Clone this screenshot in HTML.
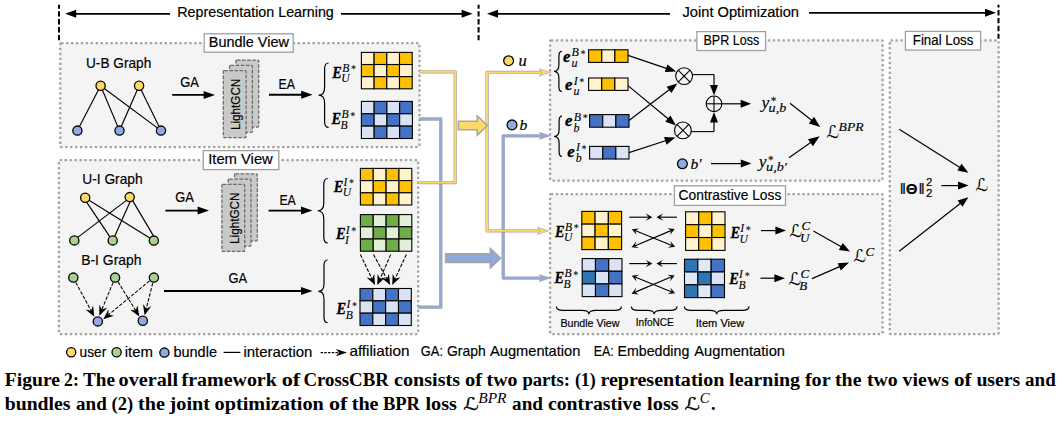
<!DOCTYPE html>
<html lang="en">
<head>
<meta charset="utf-8">
<title>Figure 2: CrossCBR framework</title>
<style>
html,body{margin:0;padding:0;background:#fff;}
body{width:1059px;height:422px;overflow:hidden;}
svg{display:block;position:absolute;left:0;top:0;}
text{white-space:pre;}
</style>
</head>
<body>
<svg width="1059" height="422" viewBox="0 0 1059 422">
<defs><filter id="sh" x="0" y="0" width="1059" height="422" filterUnits="userSpaceOnUse"><feGaussianBlur stdDeviation="0.55"/></filter></defs>
<rect x="0" y="0" width="1059" height="422" fill="#ffffff"/>
<line x1="59" y1="4.7" x2="59" y2="40.3" stroke="#000" stroke-width="2.0" stroke-dasharray="5.4 2.5" stroke-dashoffset="1.4"/>
<line x1="478.6" y1="4.7" x2="478.6" y2="40.3" stroke="#000" stroke-width="2.0" stroke-dasharray="5.4 2.5" stroke-dashoffset="1.4"/>
<line x1="998.5" y1="4.7" x2="998.5" y2="38.7" stroke="#000" stroke-width="2.0" stroke-dasharray="5.4 2.5" stroke-dashoffset="2.6"/>
<line x1="170" y1="13.8" x2="75.1" y2="13.8" stroke="#000" stroke-width="1.7" />
<polygon points="65.20,13.80 76.20,9.80 76.20,17.80" fill="#000"/>
<line x1="341" y1="13.8" x2="462.7" y2="13.8" stroke="#000" stroke-width="1.7" />
<polygon points="472.60,13.80 461.60,17.80 461.60,9.80" fill="#000"/>
<text x="177.3" y="17.2" font-size="13.8" font-family="'Liberation Sans', 'DejaVu Sans', sans-serif" fill="#000" textLength="156.5" lengthAdjust="spacingAndGlyphs" stroke="#000" stroke-width="0.18">Representation Learning</text>
<line x1="670" y1="13.8" x2="496.9" y2="13.8" stroke="#000" stroke-width="1.7" />
<polygon points="487.00,13.80 498.00,9.80 498.00,17.80" fill="#000"/>
<line x1="809" y1="12.8" x2="986.1" y2="12.8" stroke="#000" stroke-width="1.7" />
<polygon points="996.00,12.80 985.00,16.80 985.00,8.80" fill="#000"/>
<text x="682.5" y="16.9" font-size="13.8" font-family="'Liberation Sans', 'DejaVu Sans', sans-serif" fill="#000" textLength="116.5" lengthAdjust="spacingAndGlyphs" stroke="#000" stroke-width="0.18">Joint Optimization</text>
<rect x="60.3" y="43" width="359.2" height="104" rx="0.8" fill="#f4f4f4" stroke="#a2a2a2" stroke-width="2.25" stroke-dasharray="2.35 2.58"/>
<rect x="58.9" y="160" width="359.3" height="174" rx="0.8" fill="#f4f4f4" stroke="#a2a2a2" stroke-width="2.25" stroke-dasharray="2.35 2.58"/>
<rect x="550.1" y="40.3" width="332.5" height="140.2" rx="0.8" fill="#f4f4f4" stroke="#a2a2a2" stroke-width="2.25" stroke-dasharray="2.35 2.58"/>
<rect x="550.1" y="194" width="332.5" height="140" rx="0.8" fill="#f4f4f4" stroke="#a2a2a2" stroke-width="2.25" stroke-dasharray="2.35 2.58"/>
<rect x="889.8" y="40.3" width="108.80000000000007" height="293.7" rx="0.8" fill="#f4f4f4" stroke="#a2a2a2" stroke-width="2.25" stroke-dasharray="2.35 2.58"/>
<rect x="204.2" y="33.8" width="89.00" height="18.40" fill="#fff" stroke="#a0a0a0" stroke-width="1.3"/>
<text x="208.8" y="47" font-size="13.8" font-family="'Liberation Sans', 'DejaVu Sans', sans-serif" fill="#000" textLength="80.09999999999997" lengthAdjust="spacingAndGlyphs" stroke="#000" stroke-width="0.18">Bundle View</text>
<rect x="203.3" y="150.6" width="75.50" height="19.00" fill="#fff" stroke="#a0a0a0" stroke-width="1.3"/>
<text x="208.2" y="164.2" font-size="13.8" font-family="'Liberation Sans', 'DejaVu Sans', sans-serif" fill="#000" textLength="64.60000000000002" lengthAdjust="spacingAndGlyphs" stroke="#000" stroke-width="0.18">Item View</text>
<rect x="696.9" y="31.6" width="68.70" height="18.90" fill="#fff" stroke="#a0a0a0" stroke-width="1.3"/>
<text x="703.5" y="44.9" font-size="13.8" font-family="'Liberation Sans', 'DejaVu Sans', sans-serif" fill="#000" textLength="55.799999999999955" lengthAdjust="spacingAndGlyphs" stroke="#000" stroke-width="0.18">BPR Loss</text>
<rect x="674.4" y="185.8" width="111.10" height="19.60" fill="#fff" stroke="#a0a0a0" stroke-width="1.3"/>
<text x="678.6" y="200.2" font-size="13.8" font-family="'Liberation Sans', 'DejaVu Sans', sans-serif" fill="#000" textLength="102.69999999999993" lengthAdjust="spacingAndGlyphs" stroke="#000" stroke-width="0.18">Contrastive Loss</text>
<rect x="905.4" y="31.4" width="75.20" height="18.70" fill="#fff" stroke="#a0a0a0" stroke-width="1.3"/>
<text x="912.8" y="44.9" font-size="13.8" font-family="'Liberation Sans', 'DejaVu Sans', sans-serif" fill="#000" textLength="60.60000000000002" lengthAdjust="spacingAndGlyphs" stroke="#000" stroke-width="0.18">Final Loss</text>
<text x="86" y="67.8" font-size="14.3" font-family="'Liberation Sans', 'DejaVu Sans', sans-serif" fill="#000" textLength="65.3" lengthAdjust="spacingAndGlyphs" stroke="#000" stroke-width="0.18">U-B Graph</text>
<line x1="100.6" y1="85.7" x2="77.4" y2="130.6" stroke="#000" stroke-width="1.15" />
<line x1="100.6" y1="85.7" x2="119.5" y2="130.6" stroke="#000" stroke-width="1.15" />
<line x1="100.6" y1="85.7" x2="161" y2="130.6" stroke="#000" stroke-width="1.15" />
<line x1="139.1" y1="85.7" x2="119.5" y2="130.6" stroke="#000" stroke-width="1.15" />
<line x1="139.1" y1="85.7" x2="161" y2="130.6" stroke="#000" stroke-width="1.15" />
<circle cx="100.6" cy="85.7" r="4.6" fill="#FFD966" stroke="#000" stroke-width="1.3"/>
<circle cx="139.1" cy="85.7" r="4.6" fill="#FFD966" stroke="#000" stroke-width="1.3"/>
<circle cx="77.4" cy="130.6" r="4.6" fill="#8FAADC" stroke="#000" stroke-width="1.3"/>
<circle cx="119.5" cy="130.6" r="4.6" fill="#8FAADC" stroke="#000" stroke-width="1.3"/>
<circle cx="161" cy="130.6" r="4.6" fill="#8FAADC" stroke="#000" stroke-width="1.3"/>
<text x="180.3" y="87.4" font-size="14.2" font-family="'Liberation Sans', 'DejaVu Sans', sans-serif" fill="#000" textLength="18.6" lengthAdjust="spacingAndGlyphs" stroke="#000" stroke-width="0.18">GA</text>
<line x1="172.2" y1="94.9" x2="204.74" y2="94.9" stroke="#000" stroke-width="1.9" />
<polygon points="215.00,94.90 203.60,98.90 203.60,90.90" fill="#000"/>
<text x="278.6" y="89.4" font-size="14.2" font-family="'Liberation Sans', 'DejaVu Sans', sans-serif" fill="#000" textLength="16.4" lengthAdjust="spacingAndGlyphs" stroke="#000" stroke-width="0.18">EA</text>
<line x1="269" y1="94.8" x2="302.34" y2="94.8" stroke="#000" stroke-width="1.9" />
<polygon points="312.60,94.80 301.20,98.80 301.20,90.80" fill="#000"/>
<rect x="235.9" y="59.99999999999999" width="22.8" height="67" rx="1" fill="#c9c9c9" stroke="#6a6a6a" stroke-width="1.25" stroke-dasharray="3.6 1.5"/>
<rect x="229.60000000000002" y="65.3" width="22.8" height="67" rx="1" fill="#c9c9c9" stroke="#6a6a6a" stroke-width="1.25" stroke-dasharray="3.6 1.5"/>
<rect x="223.3" y="70.6" width="22.8" height="67" rx="1" fill="#c9c9c9" stroke="#6a6a6a" stroke-width="1.25" stroke-dasharray="3.6 1.5"/>
<text transform="translate(240.3,104.39999999999999) rotate(-90)" text-anchor="middle" font-size="13.6" font-family="'Liberation Sans', 'DejaVu Sans', sans-serif" textLength="51.4" lengthAdjust="spacingAndGlyphs" fill="#000" stroke="#000" stroke-width="0.18">LightGCN</text>
<rect x="234.5" y="173.8" width="22.8" height="67" rx="1" fill="#c9c9c9" stroke="#6a6a6a" stroke-width="1.25" stroke-dasharray="3.6 1.5"/>
<rect x="228.20000000000002" y="179.1" width="22.8" height="67" rx="1" fill="#c9c9c9" stroke="#6a6a6a" stroke-width="1.25" stroke-dasharray="3.6 1.5"/>
<rect x="221.9" y="184.4" width="22.8" height="67" rx="1" fill="#c9c9c9" stroke="#6a6a6a" stroke-width="1.25" stroke-dasharray="3.6 1.5"/>
<text transform="translate(238.9,218.20000000000002) rotate(-90)" text-anchor="middle" font-size="13.6" font-family="'Liberation Sans', 'DejaVu Sans', sans-serif" textLength="51.4" lengthAdjust="spacingAndGlyphs" fill="#000" stroke="#000" stroke-width="0.18">LightGCN</text>
<path d="M328.6,63 Q324.6,63 324.6,69.0 L324.6,87.2 Q324.6,95.2 318.6,95.2 Q324.6,95.2 324.6,103.2 L324.6,121.4 Q324.6,127.4 328.6,127.4" fill="none" stroke="#000" stroke-width="1.2"/>
<text x="332.2" y="77.8" font-size="17" font-family="'Liberation Serif', 'DejaVu Serif', serif" fill="#000" textLength="9.6" lengthAdjust="spacingAndGlyphs" font-weight="bold" font-style="italic" stroke="#000" stroke-width="0.35">E</text>
<text x="342.3" y="72.0" font-size="11.6" font-family="'Liberation Serif', 'DejaVu Serif', serif" fill="#000" font-style="italic" stroke="#000" stroke-width="0.12">B<tspan font-size="9" dx="0.9" dy="-1.6">∗</tspan></text>
<text x="341.3" y="82.39999999999999" font-size="11.6" font-family="'Liberation Serif', 'DejaVu Serif', serif" fill="#000" font-style="italic" stroke="#000" stroke-width="0.12">U</text>
<rect x="361.40" y="52.40" width="12.70" height="12.13" fill="#FFF2CC" stroke="#000" stroke-width="1.1"/>
<rect x="374.10" y="52.40" width="12.70" height="12.13" fill="#FFC000" stroke="#000" stroke-width="1.1"/>
<rect x="386.80" y="52.40" width="12.70" height="12.13" fill="#FFF2CC" stroke="#000" stroke-width="1.1"/>
<rect x="399.50" y="52.40" width="12.70" height="12.13" fill="#FFC000" stroke="#000" stroke-width="1.1"/>
<rect x="361.40" y="64.53" width="12.70" height="12.13" fill="#FFC000" stroke="#000" stroke-width="1.1"/>
<rect x="374.10" y="64.53" width="12.70" height="12.13" fill="#FFF2CC" stroke="#000" stroke-width="1.1"/>
<rect x="386.80" y="64.53" width="12.70" height="12.13" fill="#FFC000" stroke="#000" stroke-width="1.1"/>
<rect x="399.50" y="64.53" width="12.70" height="12.13" fill="#FFF2CC" stroke="#000" stroke-width="1.1"/>
<rect x="361.40" y="76.67" width="12.70" height="12.13" fill="#FFF2CC" stroke="#000" stroke-width="1.1"/>
<rect x="374.10" y="76.67" width="12.70" height="12.13" fill="#FFC000" stroke="#000" stroke-width="1.1"/>
<rect x="386.80" y="76.67" width="12.70" height="12.13" fill="#FFF2CC" stroke="#000" stroke-width="1.1"/>
<rect x="399.50" y="76.67" width="12.70" height="12.13" fill="#FFC000" stroke="#000" stroke-width="1.1"/>
<text x="331.4" y="124.2" font-size="17" font-family="'Liberation Serif', 'DejaVu Serif', serif" fill="#000" textLength="9.6" lengthAdjust="spacingAndGlyphs" font-weight="bold" font-style="italic" stroke="#000" stroke-width="0.35">E</text>
<text x="341.5" y="118.4" font-size="11.6" font-family="'Liberation Serif', 'DejaVu Serif', serif" fill="#000" font-style="italic" stroke="#000" stroke-width="0.12">B<tspan font-size="9" dx="0.9" dy="-1.6">∗</tspan></text>
<text x="340.5" y="128.8" font-size="11.6" font-family="'Liberation Serif', 'DejaVu Serif', serif" fill="#000" font-style="italic" stroke="#000" stroke-width="0.12">B</text>
<rect x="361.40" y="101.40" width="12.75" height="12.37" fill="#DAE3F3" stroke="#000" stroke-width="1.1"/>
<rect x="374.15" y="101.40" width="12.75" height="12.37" fill="#4472C4" stroke="#000" stroke-width="1.1"/>
<rect x="386.90" y="101.40" width="12.75" height="12.37" fill="#DAE3F3" stroke="#000" stroke-width="1.1"/>
<rect x="399.65" y="101.40" width="12.75" height="12.37" fill="#4472C4" stroke="#000" stroke-width="1.1"/>
<rect x="361.40" y="113.77" width="12.75" height="12.37" fill="#4472C4" stroke="#000" stroke-width="1.1"/>
<rect x="374.15" y="113.77" width="12.75" height="12.37" fill="#DAE3F3" stroke="#000" stroke-width="1.1"/>
<rect x="386.90" y="113.77" width="12.75" height="12.37" fill="#4472C4" stroke="#000" stroke-width="1.1"/>
<rect x="399.65" y="113.77" width="12.75" height="12.37" fill="#DAE3F3" stroke="#000" stroke-width="1.1"/>
<rect x="361.40" y="126.13" width="12.75" height="12.37" fill="#DAE3F3" stroke="#000" stroke-width="1.1"/>
<rect x="374.15" y="126.13" width="12.75" height="12.37" fill="#4472C4" stroke="#000" stroke-width="1.1"/>
<rect x="386.90" y="126.13" width="12.75" height="12.37" fill="#DAE3F3" stroke="#000" stroke-width="1.1"/>
<rect x="399.65" y="126.13" width="12.75" height="12.37" fill="#4472C4" stroke="#000" stroke-width="1.1"/>
<text x="82.2" y="183.6" font-size="14.3" font-family="'Liberation Sans', 'DejaVu Sans', sans-serif" fill="#000" textLength="60.5" lengthAdjust="spacingAndGlyphs" stroke="#000" stroke-width="0.18">U-I Graph</text>
<line x1="86.4" y1="201.9" x2="109.8" y2="236.6" stroke="#000" stroke-width="1.15" />
<line x1="89" y1="200.2" x2="150.2" y2="238.2" stroke="#000" stroke-width="1.15" />
<line x1="126.4" y1="200.4" x2="77.4" y2="237.6" stroke="#000" stroke-width="1.15" />
<line x1="130.2" y1="201.6" x2="114.6" y2="236.4" stroke="#000" stroke-width="1.15" />
<line x1="132.6" y1="200.6" x2="153.6" y2="236.1" stroke="#000" stroke-width="1.15" />
<circle cx="85.2" cy="197.7" r="4.6" fill="#FFD966" stroke="#000" stroke-width="1.3"/>
<circle cx="129.7" cy="197.1" r="4.6" fill="#FFD966" stroke="#000" stroke-width="1.3"/>
<circle cx="74.3" cy="240.4" r="4.6" fill="#A9D18E" stroke="#000" stroke-width="1.3"/>
<circle cx="112.7" cy="240.4" r="4.6" fill="#A9D18E" stroke="#000" stroke-width="1.3"/>
<circle cx="153.8" cy="240.6" r="4.6" fill="#A9D18E" stroke="#000" stroke-width="1.3"/>
<text x="175.2" y="201.8" font-size="14.2" font-family="'Liberation Sans', 'DejaVu Sans', sans-serif" fill="#000" textLength="18.6" lengthAdjust="spacingAndGlyphs" stroke="#000" stroke-width="0.18">GA</text>
<line x1="165.4" y1="210.6" x2="198.74" y2="210.6" stroke="#000" stroke-width="1.9" />
<polygon points="209.00,210.60 197.60,214.60 197.60,206.60" fill="#000"/>
<text x="279.4" y="205.1" font-size="14.2" font-family="'Liberation Sans', 'DejaVu Sans', sans-serif" fill="#000" textLength="16.4" lengthAdjust="spacingAndGlyphs" stroke="#000" stroke-width="0.18">EA</text>
<line x1="268.6" y1="210.6" x2="302.14" y2="210.6" stroke="#000" stroke-width="1.9" />
<polygon points="312.40,210.60 301.00,214.60 301.00,206.60" fill="#000"/>
<path d="M327.8,178.5 Q323.8,178.5 323.8,184.5 L323.8,202.75 Q323.8,210.75 317.8,210.75 Q323.8,210.75 323.8,218.75 L323.8,237.0 Q323.8,243 327.8,243" fill="none" stroke="#000" stroke-width="1.2"/>
<text x="333.7" y="191.5" font-size="17" font-family="'Liberation Serif', 'DejaVu Serif', serif" fill="#000" textLength="9.6" lengthAdjust="spacingAndGlyphs" font-weight="bold" font-style="italic" stroke="#000" stroke-width="0.35">E</text>
<text x="343.5" y="185.7" font-size="11.6" font-family="'Liberation Serif', 'DejaVu Serif', serif" fill="#000" font-style="italic" stroke="#000" stroke-width="0.12">I<tspan font-size="9" dx="0.9" dy="-1.6">∗</tspan></text>
<text x="342.8" y="196.1" font-size="11.6" font-family="'Liberation Serif', 'DejaVu Serif', serif" fill="#000" font-style="italic" stroke="#000" stroke-width="0.12">U</text>
<rect x="360.40" y="168.40" width="12.85" height="12.20" fill="#FFC000" stroke="#000" stroke-width="1.1"/>
<rect x="373.25" y="168.40" width="12.85" height="12.20" fill="#FFF2CC" stroke="#000" stroke-width="1.1"/>
<rect x="386.10" y="168.40" width="12.85" height="12.20" fill="#FFC000" stroke="#000" stroke-width="1.1"/>
<rect x="398.95" y="168.40" width="12.85" height="12.20" fill="#FFF2CC" stroke="#000" stroke-width="1.1"/>
<rect x="360.40" y="180.60" width="12.85" height="12.20" fill="#FFF2CC" stroke="#000" stroke-width="1.1"/>
<rect x="373.25" y="180.60" width="12.85" height="12.20" fill="#FFC000" stroke="#000" stroke-width="1.1"/>
<rect x="386.10" y="180.60" width="12.85" height="12.20" fill="#FFF2CC" stroke="#000" stroke-width="1.1"/>
<rect x="398.95" y="180.60" width="12.85" height="12.20" fill="#FFC000" stroke="#000" stroke-width="1.1"/>
<rect x="360.40" y="192.80" width="12.85" height="12.20" fill="#FFC000" stroke="#000" stroke-width="1.1"/>
<rect x="373.25" y="192.80" width="12.85" height="12.20" fill="#FFF2CC" stroke="#000" stroke-width="1.1"/>
<rect x="386.10" y="192.80" width="12.85" height="12.20" fill="#FFC000" stroke="#000" stroke-width="1.1"/>
<rect x="398.95" y="192.80" width="12.85" height="12.20" fill="#FFF2CC" stroke="#000" stroke-width="1.1"/>
<text x="336" y="239.4" font-size="17" font-family="'Liberation Serif', 'DejaVu Serif', serif" fill="#000" textLength="9.6" lengthAdjust="spacingAndGlyphs" font-weight="bold" font-style="italic" stroke="#000" stroke-width="0.35">E</text>
<text x="345.8" y="233.6" font-size="11.6" font-family="'Liberation Serif', 'DejaVu Serif', serif" fill="#000" font-style="italic" stroke="#000" stroke-width="0.12">I<tspan font-size="9" dx="0.9" dy="-1.6">∗</tspan></text>
<text x="345.1" y="244.0" font-size="11.6" font-family="'Liberation Serif', 'DejaVu Serif', serif" fill="#000" font-style="italic" stroke="#000" stroke-width="0.12">I</text>
<rect x="360.40" y="214.60" width="12.85" height="12.20" fill="#70AD47" stroke="#000" stroke-width="1.1"/>
<rect x="373.25" y="214.60" width="12.85" height="12.20" fill="#E2F0D9" stroke="#000" stroke-width="1.1"/>
<rect x="386.10" y="214.60" width="12.85" height="12.20" fill="#70AD47" stroke="#000" stroke-width="1.1"/>
<rect x="398.95" y="214.60" width="12.85" height="12.20" fill="#E2F0D9" stroke="#000" stroke-width="1.1"/>
<rect x="360.40" y="226.80" width="12.85" height="12.20" fill="#E2F0D9" stroke="#000" stroke-width="1.1"/>
<rect x="373.25" y="226.80" width="12.85" height="12.20" fill="#70AD47" stroke="#000" stroke-width="1.1"/>
<rect x="386.10" y="226.80" width="12.85" height="12.20" fill="#E2F0D9" stroke="#000" stroke-width="1.1"/>
<rect x="398.95" y="226.80" width="12.85" height="12.20" fill="#70AD47" stroke="#000" stroke-width="1.1"/>
<rect x="360.40" y="239.00" width="12.85" height="12.20" fill="#70AD47" stroke="#000" stroke-width="1.1"/>
<rect x="373.25" y="239.00" width="12.85" height="12.20" fill="#E2F0D9" stroke="#000" stroke-width="1.1"/>
<rect x="386.10" y="239.00" width="12.85" height="12.20" fill="#70AD47" stroke="#000" stroke-width="1.1"/>
<rect x="398.95" y="239.00" width="12.85" height="12.20" fill="#E2F0D9" stroke="#000" stroke-width="1.1"/>
<text x="81.2" y="265.2" font-size="14.3" font-family="'Liberation Sans', 'DejaVu Sans', sans-serif" fill="#000" textLength="60.3" lengthAdjust="spacingAndGlyphs" stroke="#000" stroke-width="0.18">B-I Graph</text>
<line x1="75.8" y1="282.4" x2="91.22" y2="310.99" stroke="#000" stroke-width="1.05" stroke-dasharray="3.6 1.5" />
<polygon points="94.30,316.70 85.53,309.50 91.06,310.69 93.10,305.42" fill="#000"/>
<line x1="113.1" y1="282.4" x2="101.78" y2="309.81" stroke="#000" stroke-width="1.05" stroke-dasharray="3.6 1.5" />
<polygon points="99.30,315.80 99.34,304.45 101.91,309.49 107.28,307.74" fill="#000"/>
<line x1="118" y1="281.8" x2="135.9" y2="310.88" stroke="#000" stroke-width="1.05" stroke-dasharray="3.6 1.5" />
<polygon points="139.30,316.40 130.13,309.71 135.72,310.59 137.46,305.20" fill="#000"/>
<line x1="149.6" y1="280.8" x2="108.2" y2="315.07" stroke="#000" stroke-width="1.05" stroke-dasharray="3.6 1.5" />
<polygon points="103.20,319.20 108.55,309.19 108.46,314.85 114.03,315.82" fill="#000"/>
<line x1="152.7" y1="283.2" x2="146.19" y2="309.01" stroke="#000" stroke-width="1.05" stroke-dasharray="3.6 1.5" />
<polygon points="144.60,315.30 143.00,304.07 146.27,308.68 151.34,306.17" fill="#000"/>
<circle cx="73.3" cy="277.6" r="4.6" fill="#A9D18E" stroke="#000" stroke-width="1.3"/>
<circle cx="115.1" cy="277.6" r="4.6" fill="#A9D18E" stroke="#000" stroke-width="1.3"/>
<circle cx="153.9" cy="277.6" r="4.6" fill="#A9D18E" stroke="#000" stroke-width="1.3"/>
<circle cx="97.8" cy="321.4" r="4.6" fill="#8FAADC" stroke="#000" stroke-width="1.3"/>
<circle cx="142.8" cy="320.7" r="4.6" fill="#8FAADC" stroke="#000" stroke-width="1.3"/>
<text x="228.4" y="283.2" font-size="14.2" font-family="'Liberation Sans', 'DejaVu Sans', sans-serif" fill="#000" textLength="18.6" lengthAdjust="spacingAndGlyphs" stroke="#000" stroke-width="0.18">GA</text>
<line x1="164" y1="291" x2="302.14" y2="291.0" stroke="#000" stroke-width="1.9" />
<polygon points="312.40,291.00 301.00,295.00 301.00,287.00" fill="#000"/>
<path d="M327.6,260 Q324.0,260 324.0,265.6 L324.0,283.7 Q324.0,291.3 318.4,291.3 Q324.0,291.3 324.0,298.90000000000003 L324.0,317.0 Q324.0,322.6 327.6,322.6" fill="none" stroke="#000" stroke-width="1.2"/>
<text x="336.6" y="313.9" font-size="17" font-family="'Liberation Serif', 'DejaVu Serif', serif" fill="#000" textLength="9.6" lengthAdjust="spacingAndGlyphs" font-weight="bold" font-style="italic" stroke="#000" stroke-width="0.35">E</text>
<text x="346.40000000000003" y="308.09999999999997" font-size="11.6" font-family="'Liberation Serif', 'DejaVu Serif', serif" fill="#000" font-style="italic" stroke="#000" stroke-width="0.12">I<tspan font-size="9" dx="0.9" dy="-1.6">∗</tspan></text>
<text x="345.70000000000005" y="318.5" font-size="11.6" font-family="'Liberation Serif', 'DejaVu Serif', serif" fill="#000" font-style="italic" stroke="#000" stroke-width="0.12">B</text>
<rect x="360.00" y="288.50" width="12.83" height="12.33" fill="#4472C4" stroke="#000" stroke-width="1.1"/>
<rect x="372.82" y="288.50" width="12.83" height="12.33" fill="#DAE3F3" stroke="#000" stroke-width="1.1"/>
<rect x="385.65" y="288.50" width="12.83" height="12.33" fill="#4472C4" stroke="#000" stroke-width="1.1"/>
<rect x="398.48" y="288.50" width="12.83" height="12.33" fill="#DAE3F3" stroke="#000" stroke-width="1.1"/>
<rect x="360.00" y="300.83" width="12.83" height="12.33" fill="#DAE3F3" stroke="#000" stroke-width="1.1"/>
<rect x="372.82" y="300.83" width="12.83" height="12.33" fill="#4472C4" stroke="#000" stroke-width="1.1"/>
<rect x="385.65" y="300.83" width="12.83" height="12.33" fill="#DAE3F3" stroke="#000" stroke-width="1.1"/>
<rect x="398.48" y="300.83" width="12.83" height="12.33" fill="#4472C4" stroke="#000" stroke-width="1.1"/>
<rect x="360.00" y="313.17" width="12.83" height="12.33" fill="#4472C4" stroke="#000" stroke-width="1.1"/>
<rect x="372.82" y="313.17" width="12.83" height="12.33" fill="#DAE3F3" stroke="#000" stroke-width="1.1"/>
<rect x="385.65" y="313.17" width="12.83" height="12.33" fill="#4472C4" stroke="#000" stroke-width="1.1"/>
<rect x="398.48" y="313.17" width="12.83" height="12.33" fill="#DAE3F3" stroke="#000" stroke-width="1.1"/>
<line x1="360.4" y1="254.6" x2="372.19" y2="279.16" stroke="#000" stroke-width="1.1" stroke-dasharray="3.6 1.5" />
<polygon points="375.00,285.00 366.58,277.40 372.05,278.85 374.33,273.67" fill="#000"/>
<line x1="373.5" y1="254.6" x2="387.08" y2="279.32" stroke="#000" stroke-width="1.1" stroke-dasharray="3.6 1.5" />
<polygon points="390.20,285.00 381.38,277.87 386.91,279.02 388.91,273.73" fill="#000"/>
<line x1="390.7" y1="254.6" x2="379.92" y2="279.07" stroke="#000" stroke-width="1.1" stroke-dasharray="3.6 1.5" />
<polygon points="377.30,285.00 377.60,273.66 380.05,278.75 385.47,277.13" fill="#000"/>
<line x1="406.3" y1="254.6" x2="394.93" y2="279.12" stroke="#000" stroke-width="1.1" stroke-dasharray="3.6 1.5" />
<polygon points="392.20,285.00 392.72,273.67 395.07,278.81 400.52,277.28" fill="#000"/>
<path d="M419.4,119 H440.8 V307.2 H418.4" fill="none" stroke="#85858f" stroke-width="3.3" stroke-linejoin="round" opacity="0.75" filter="url(#sh)"/>
<path d="M419.4,119 H440.8 V307.2 H418.4" fill="none" stroke="#8FAADC" stroke-width="2.0" stroke-linejoin="round"/>
<path d="M543,135.8 H503.2 V278.1 H543" fill="none" stroke="#85858f" stroke-width="3.3" stroke-linejoin="round" opacity="0.75" filter="url(#sh)"/>
<path d="M543,135.8 H503.2 V278.1 H543" fill="none" stroke="#8FAADC" stroke-width="2.0" stroke-linejoin="round"/>
<polygon points="550.4,135.8 539.0,132.20000000000002 542.0,135.8 539.0,139.4" fill="#8FAADC" stroke="#a0a0a0" stroke-width="0.6"/>
<polygon points="550.4,278.1 539.0,274.5 542.0,278.1 539.0,281.70000000000005" fill="#8FAADC" stroke="#a0a0a0" stroke-width="0.6"/>
<path d="M419.4,71.8 H455.2 V182.6 H418.4" fill="none" stroke="#85858f" stroke-width="3.3" stroke-linejoin="round" opacity="0.75" filter="url(#sh)"/>
<path d="M419.4,71.8 H455.2 V182.6 H418.4" fill="none" stroke="#FFD966" stroke-width="2.0" stroke-linejoin="round"/>
<path d="M543,72.4 H487.1 V230.8 H541" fill="none" stroke="#85858f" stroke-width="3.3" stroke-linejoin="round" opacity="0.75" filter="url(#sh)"/>
<path d="M543,72.4 H487.1 V230.8 H541" fill="none" stroke="#FFD966" stroke-width="2.0" stroke-linejoin="round"/>
<polygon points="550.4,72.4 539.0,68.80000000000001 542.0,72.4 539.0,76.0" fill="#FFD966" stroke="#a0a0a0" stroke-width="0.6"/>
<polygon points="548.6,230.8 537.2,227.20000000000002 540.2,230.8 537.2,234.4" fill="#FFD966" stroke="#a0a0a0" stroke-width="0.6"/>
<polygon points="458.40,121.20 477.20,121.20 477.20,115.90 487.40,125.50 477.20,135.10 477.20,129.80 458.40,129.80" fill="#FFD966" stroke="#a6a6a6" stroke-width="1.6" stroke-linejoin="miter"/>
<polygon points="445.60,253.90 490.40,253.90 490.40,248.60 500.60,258.20 490.40,267.80 490.40,262.50 445.60,262.50" fill="#8FAADC" stroke="#a6a6a6" stroke-width="1.6" stroke-linejoin="miter"/>
<circle cx="508.6" cy="60.7" r="4.9" fill="#FFD966" stroke="#000" stroke-width="1.3"/>
<text x="518.4" y="65.6" font-size="16.5" font-family="'Liberation Serif', 'DejaVu Serif', serif" fill="#000" font-style="italic" stroke="#000" stroke-width="0.2">u</text>
<circle cx="512" cy="124.9" r="4.9" fill="#8FAADC" stroke="#000" stroke-width="1.3"/>
<text x="519.6" y="130.4" font-size="15.6" font-family="'Liberation Serif', 'DejaVu Serif', serif" fill="#000" font-style="italic" stroke="#000" stroke-width="0.2">b</text>
<path d="M561.8,51.4 Q558.9,51.4 558.9,56.299999999999976 L558.9,64.50000000000003 Q558.9,71.4 554,71.4 Q558.9,71.4 558.9,78.29999999999998 L558.9,86.50000000000003 Q558.9,91.4 561.8,91.4" fill="none" stroke="#000" stroke-width="1.2"/>
<path d="M562,116.1 Q559.1,116.1 559.1,120.99999999999997 L559.1,129.40000000000003 Q559.1,136.3 554.2,136.3 Q559.1,136.3 559.1,143.2 L559.1,151.60000000000002 Q559.1,156.5 562,156.5" fill="none" stroke="#000" stroke-width="1.2"/>
<text x="562.9" y="61.6" font-size="17" font-family="'Liberation Serif', 'DejaVu Serif', serif" fill="#000" textLength="7.4" lengthAdjust="spacingAndGlyphs" font-weight="bold" font-style="italic" stroke="#000" stroke-width="0.35">e</text>
<text x="571.6" y="56.300000000000004" font-size="12" font-family="'Liberation Serif', 'DejaVu Serif', serif" fill="#000" font-style="italic" stroke="#000" stroke-width="0.12">B<tspan font-size="9" dx="0.9" dy="-1.6">∗</tspan></text>
<text x="571.4" y="66.8" font-size="12" font-family="'Liberation Serif', 'DejaVu Serif', serif" fill="#000" font-style="italic" stroke="#000" stroke-width="0.12">u</text>
<rect x="588.60" y="49.80" width="13.13" height="12.60" fill="#FFC000" stroke="#000" stroke-width="1.1"/>
<rect x="601.73" y="49.80" width="13.13" height="12.60" fill="#FFF2CC" stroke="#000" stroke-width="1.1"/>
<rect x="614.87" y="49.80" width="13.13" height="12.60" fill="#FFC000" stroke="#000" stroke-width="1.1"/>
<text x="565" y="90.2" font-size="17" font-family="'Liberation Serif', 'DejaVu Serif', serif" fill="#000" textLength="7.4" lengthAdjust="spacingAndGlyphs" font-weight="bold" font-style="italic" stroke="#000" stroke-width="0.35">e</text>
<text x="573.7" y="84.9" font-size="12" font-family="'Liberation Serif', 'DejaVu Serif', serif" fill="#000" font-style="italic" stroke="#000" stroke-width="0.12">I<tspan font-size="9" dx="0.9" dy="-1.6">∗</tspan></text>
<text x="573.5" y="95.4" font-size="12" font-family="'Liberation Serif', 'DejaVu Serif', serif" fill="#000" font-style="italic" stroke="#000" stroke-width="0.12">u</text>
<rect x="588.60" y="78.00" width="13.13" height="12.40" fill="#FFF2CC" stroke="#000" stroke-width="1.1"/>
<rect x="601.73" y="78.00" width="13.13" height="12.40" fill="#FFC000" stroke="#000" stroke-width="1.1"/>
<rect x="614.87" y="78.00" width="13.13" height="12.40" fill="#FFF2CC" stroke="#000" stroke-width="1.1"/>
<text x="565" y="126.3" font-size="17" font-family="'Liberation Serif', 'DejaVu Serif', serif" fill="#000" textLength="7.4" lengthAdjust="spacingAndGlyphs" font-weight="bold" font-style="italic" stroke="#000" stroke-width="0.35">e</text>
<text x="573.7" y="121.0" font-size="12" font-family="'Liberation Serif', 'DejaVu Serif', serif" fill="#000" font-style="italic" stroke="#000" stroke-width="0.12">B<tspan font-size="9" dx="0.9" dy="-1.6">∗</tspan></text>
<text x="573.5" y="131.5" font-size="12" font-family="'Liberation Serif', 'DejaVu Serif', serif" fill="#000" font-style="italic" stroke="#000" stroke-width="0.12">b</text>
<rect x="589.60" y="114.60" width="13.13" height="12.60" fill="#4472C4" stroke="#000" stroke-width="1.1"/>
<rect x="602.73" y="114.60" width="13.13" height="12.60" fill="#DAE3F3" stroke="#000" stroke-width="1.1"/>
<rect x="615.87" y="114.60" width="13.13" height="12.60" fill="#4472C4" stroke="#000" stroke-width="1.1"/>
<text x="567.2" y="156.5" font-size="17" font-family="'Liberation Serif', 'DejaVu Serif', serif" fill="#000" textLength="7.4" lengthAdjust="spacingAndGlyphs" font-weight="bold" font-style="italic" stroke="#000" stroke-width="0.35">e</text>
<text x="575.9000000000001" y="151.2" font-size="12" font-family="'Liberation Serif', 'DejaVu Serif', serif" fill="#000" font-style="italic" stroke="#000" stroke-width="0.12">I<tspan font-size="9" dx="0.9" dy="-1.6">∗</tspan></text>
<text x="575.7" y="161.7" font-size="12" font-family="'Liberation Serif', 'DejaVu Serif', serif" fill="#000" font-style="italic" stroke="#000" stroke-width="0.12">b</text>
<rect x="589.60" y="146.40" width="13.13" height="12.60" fill="#DAE3F3" stroke="#000" stroke-width="1.1"/>
<rect x="602.73" y="146.40" width="13.13" height="12.60" fill="#4472C4" stroke="#000" stroke-width="1.1"/>
<rect x="615.87" y="146.40" width="13.13" height="12.60" fill="#DAE3F3" stroke="#000" stroke-width="1.1"/>
<circle cx="684.1" cy="76.1" r="8.4" fill="none" stroke="#000" stroke-width="1.1"/>
<line x1="678.16036" y1="70.16036" x2="690.0396400000001" y2="82.03963999999999" stroke="#000" stroke-width="1.1" />
<line x1="678.16036" y1="82.03963999999999" x2="690.0396400000001" y2="70.16036" stroke="#000" stroke-width="1.1" />
<circle cx="682.9" cy="130.4" r="8.4" fill="none" stroke="#000" stroke-width="1.1"/>
<line x1="676.9603599999999" y1="124.46036000000001" x2="688.83964" y2="136.33964" stroke="#000" stroke-width="1.1" />
<line x1="676.9603599999999" y1="136.33964" x2="688.83964" y2="124.46036000000001" stroke="#000" stroke-width="1.1" />
<circle cx="714" cy="103.8" r="7.8" fill="none" stroke="#000" stroke-width="1.1"/>
<line x1="706.2" y1="103.8" x2="721.8" y2="103.8" stroke="#000" stroke-width="1.1" />
<line x1="714" y1="96.0" x2="714" y2="111.6" stroke="#000" stroke-width="1.1" />
<line x1="628" y1="55.4" x2="667.16" y2="68.56" stroke="#000" stroke-width="1.2" />
<polygon points="676.20,71.60 664.88,72.01 667.43,64.43" fill="#000"/>
<line x1="628" y1="85.6" x2="668.66" y2="119.31" stroke="#000" stroke-width="1.2" />
<polygon points="676.00,125.40 665.29,121.71 670.39,115.55" fill="#000"/>
<line x1="629" y1="120.6" x2="669.84" y2="89.21" stroke="#000" stroke-width="1.2" />
<polygon points="677.40,83.40 671.43,93.03 666.56,86.69" fill="#000"/>
<line x1="629" y1="152.6" x2="666.32" y2="140.53" stroke="#000" stroke-width="1.2" />
<polygon points="675.40,137.60 666.54,144.67 664.08,137.05" fill="#000"/>
<path d="M692,74.6 H714" fill="none" stroke="#000" stroke-width="1.1"/>
<line x1="714" y1="74.6" x2="714.0" y2="86.06" stroke="#000" stroke-width="1.2" />
<polygon points="714.00,95.60 710.00,85.00 718.00,85.00" fill="#000"/>
<path d="M690.8,131.6 H714" fill="none" stroke="#000" stroke-width="1.1"/>
<line x1="714" y1="131.6" x2="714.0" y2="121.54" stroke="#000" stroke-width="1.2" />
<polygon points="714.00,112.00 718.00,122.60 710.00,122.60" fill="#000"/>
<line x1="722" y1="103.8" x2="741.66" y2="103.8" stroke="#000" stroke-width="1.2" />
<polygon points="751.20,103.80 740.60,107.80 740.60,99.80" fill="#000"/>
<circle cx="682.4" cy="163.8" r="4.9" fill="#8FAADC" stroke="#000" stroke-width="1.3"/>
<text x="690.4" y="169.4" font-size="15.6" font-family="'Liberation Serif', 'DejaVu Serif', serif" fill="#000" font-style="italic" stroke="#000" stroke-width="0.2">b′</text>
<line x1="711" y1="163.6" x2="741.86" y2="163.6" stroke="#000" stroke-width="1.2" />
<polygon points="751.40,163.60 740.80,167.60 740.80,159.60" fill="#000"/>
<text x="761.4" y="107.6" font-size="17.5" font-family="'Liberation Serif', 'DejaVu Serif', serif" fill="#000" font-style="italic" stroke="#000" stroke-width="0.15">y</text>
<text x="770.1999999999999" y="102.39999999999999" font-size="9.5" font-family="'Liberation Serif', 'DejaVu Serif', serif" fill="#000" font-style="italic" stroke="#000" stroke-width="0.15">∗</text>
<text x="768.6" y="111.8" font-size="12.5" font-family="'Liberation Serif', 'DejaVu Serif', serif" fill="#000" textLength="17.6" lengthAdjust="spacingAndGlyphs" font-style="italic" stroke="#000" stroke-width="0.15">u,b</text>
<text x="758.8" y="166.6" font-size="17.5" font-family="'Liberation Serif', 'DejaVu Serif', serif" fill="#000" font-style="italic" stroke="#000" stroke-width="0.15">y</text>
<text x="767.5999999999999" y="161.4" font-size="9.5" font-family="'Liberation Serif', 'DejaVu Serif', serif" fill="#000" font-style="italic" stroke="#000" stroke-width="0.15">∗</text>
<text x="766.0" y="170.79999999999998" font-size="12.5" font-family="'Liberation Serif', 'DejaVu Serif', serif" fill="#000" textLength="21" lengthAdjust="spacingAndGlyphs" font-style="italic" stroke="#000" stroke-width="0.15">u,b′</text>
<line x1="790" y1="103.2" x2="812.28" y2="120.76" stroke="#000" stroke-width="1.2" />
<polygon points="820.20,127.00 808.74,123.44 814.06,116.69" fill="#000"/>
<line x1="789" y1="157.8" x2="811.36" y2="142.01" stroke="#000" stroke-width="1.2" />
<polygon points="819.60,136.20 812.93,146.17 807.97,139.15" fill="#000"/>
<text x="826.6" y="137.7" font-size="17.5" font-family="'DejaVu Sans', 'DejaVu Serif', sans-serif" fill="#000" font-style="italic"  >ℒ</text>
<text x="838.6" y="130.89999999999998" font-size="13" font-family="'Liberation Serif', 'DejaVu Serif', serif" fill="#000" textLength="25" lengthAdjust="spacingAndGlyphs" font-style="italic" stroke="#000" stroke-width="0.15">BPR</text>
<text x="555" y="236.7" font-size="17" font-family="'Liberation Serif', 'DejaVu Serif', serif" fill="#000" textLength="9.6" lengthAdjust="spacingAndGlyphs" font-weight="bold" font-style="italic" stroke="#000" stroke-width="0.35">E</text>
<text x="565.1" y="230.89999999999998" font-size="11.6" font-family="'Liberation Serif', 'DejaVu Serif', serif" fill="#000" font-style="italic" stroke="#000" stroke-width="0.12">B<tspan font-size="9" dx="0.9" dy="-1.6">∗</tspan></text>
<text x="564.1" y="241.29999999999998" font-size="11.6" font-family="'Liberation Serif', 'DejaVu Serif', serif" fill="#000" font-style="italic" stroke="#000" stroke-width="0.12">U</text>
<rect x="581.80" y="211.40" width="13.27" height="12.73" fill="#FFC000" stroke="#000" stroke-width="1.1"/>
<rect x="595.07" y="211.40" width="13.27" height="12.73" fill="#FFF2CC" stroke="#000" stroke-width="1.1"/>
<rect x="608.33" y="211.40" width="13.27" height="12.73" fill="#FFC000" stroke="#000" stroke-width="1.1"/>
<rect x="581.80" y="224.13" width="13.27" height="12.73" fill="#FFF2CC" stroke="#000" stroke-width="1.1"/>
<rect x="595.07" y="224.13" width="13.27" height="12.73" fill="#FFC000" stroke="#000" stroke-width="1.1"/>
<rect x="608.33" y="224.13" width="13.27" height="12.73" fill="#FFF2CC" stroke="#000" stroke-width="1.1"/>
<rect x="581.80" y="236.87" width="13.27" height="12.73" fill="#FFC000" stroke="#000" stroke-width="1.1"/>
<rect x="595.07" y="236.87" width="13.27" height="12.73" fill="#FFF2CC" stroke="#000" stroke-width="1.1"/>
<rect x="608.33" y="236.87" width="13.27" height="12.73" fill="#FFC000" stroke="#000" stroke-width="1.1"/>
<rect x="685.60" y="211.80" width="13.13" height="12.87" fill="#FFF2CC" stroke="#000" stroke-width="1.1"/>
<rect x="698.73" y="211.80" width="13.13" height="12.87" fill="#FFC000" stroke="#000" stroke-width="1.1"/>
<rect x="711.87" y="211.80" width="13.13" height="12.87" fill="#FFF2CC" stroke="#000" stroke-width="1.1"/>
<rect x="685.60" y="224.67" width="13.13" height="12.87" fill="#FFC000" stroke="#000" stroke-width="1.1"/>
<rect x="698.73" y="224.67" width="13.13" height="12.87" fill="#FFF2CC" stroke="#000" stroke-width="1.1"/>
<rect x="711.87" y="224.67" width="13.13" height="12.87" fill="#FFC000" stroke="#000" stroke-width="1.1"/>
<rect x="685.60" y="237.53" width="13.13" height="12.87" fill="#FFF2CC" stroke="#000" stroke-width="1.1"/>
<rect x="698.73" y="237.53" width="13.13" height="12.87" fill="#FFC000" stroke="#000" stroke-width="1.1"/>
<rect x="711.87" y="237.53" width="13.13" height="12.87" fill="#FFF2CC" stroke="#000" stroke-width="1.1"/>
<text x="554.5" y="283" font-size="17" font-family="'Liberation Serif', 'DejaVu Serif', serif" fill="#000" textLength="9.6" lengthAdjust="spacingAndGlyphs" font-weight="bold" font-style="italic" stroke="#000" stroke-width="0.35">E</text>
<text x="564.6" y="277.2" font-size="11.6" font-family="'Liberation Serif', 'DejaVu Serif', serif" fill="#000" font-style="italic" stroke="#000" stroke-width="0.12">B<tspan font-size="9" dx="0.9" dy="-1.6">∗</tspan></text>
<text x="563.6" y="287.6" font-size="11.6" font-family="'Liberation Serif', 'DejaVu Serif', serif" fill="#000" font-style="italic" stroke="#000" stroke-width="0.12">B</text>
<rect x="582.20" y="258.60" width="13.27" height="12.67" fill="#DAE3F3" stroke="#000" stroke-width="1.1"/>
<rect x="595.47" y="258.60" width="13.27" height="12.67" fill="#4472C4" stroke="#000" stroke-width="1.1"/>
<rect x="608.73" y="258.60" width="13.27" height="12.67" fill="#DAE3F3" stroke="#000" stroke-width="1.1"/>
<rect x="582.20" y="271.27" width="13.27" height="12.67" fill="#2E75B6" stroke="#000" stroke-width="1.1"/>
<rect x="595.47" y="271.27" width="13.27" height="12.67" fill="#DAE3F3" stroke="#000" stroke-width="1.1"/>
<rect x="608.73" y="271.27" width="13.27" height="12.67" fill="#4472C4" stroke="#000" stroke-width="1.1"/>
<rect x="582.20" y="283.93" width="13.27" height="12.67" fill="#DAE3F3" stroke="#000" stroke-width="1.1"/>
<rect x="595.47" y="283.93" width="13.27" height="12.67" fill="#4472C4" stroke="#000" stroke-width="1.1"/>
<rect x="608.73" y="283.93" width="13.27" height="12.67" fill="#DAE3F3" stroke="#000" stroke-width="1.1"/>
<rect x="684.50" y="259.20" width="13.33" height="12.80" fill="#2E75B6" stroke="#000" stroke-width="1.1"/>
<rect x="697.83" y="259.20" width="13.33" height="12.80" fill="#DEEBF7" stroke="#000" stroke-width="1.1"/>
<rect x="711.17" y="259.20" width="13.33" height="12.80" fill="#4472C4" stroke="#000" stroke-width="1.1"/>
<rect x="684.50" y="272.00" width="13.33" height="12.80" fill="#DEEBF7" stroke="#000" stroke-width="1.1"/>
<rect x="697.83" y="272.00" width="13.33" height="12.80" fill="#2E75B6" stroke="#000" stroke-width="1.1"/>
<rect x="711.17" y="272.00" width="13.33" height="12.80" fill="#DAE3F3" stroke="#000" stroke-width="1.1"/>
<rect x="684.50" y="284.80" width="13.33" height="12.80" fill="#2E75B6" stroke="#000" stroke-width="1.1"/>
<rect x="697.83" y="284.80" width="13.33" height="12.80" fill="#DEEBF7" stroke="#000" stroke-width="1.1"/>
<rect x="711.17" y="284.80" width="13.33" height="12.80" fill="#4472C4" stroke="#000" stroke-width="1.1"/>
<text x="730.5" y="237.9" font-size="17" font-family="'Liberation Serif', 'DejaVu Serif', serif" fill="#000" textLength="9.6" lengthAdjust="spacingAndGlyphs" font-weight="bold" font-style="italic" stroke="#000" stroke-width="0.35">E</text>
<text x="740.3" y="232.1" font-size="11.6" font-family="'Liberation Serif', 'DejaVu Serif', serif" fill="#000" font-style="italic" stroke="#000" stroke-width="0.12">I<tspan font-size="9" dx="0.9" dy="-1.6">∗</tspan></text>
<text x="739.6" y="242.5" font-size="11.6" font-family="'Liberation Serif', 'DejaVu Serif', serif" fill="#000" font-style="italic" stroke="#000" stroke-width="0.12">U</text>
<text x="729.3" y="284.1" font-size="17" font-family="'Liberation Serif', 'DejaVu Serif', serif" fill="#000" textLength="9.6" lengthAdjust="spacingAndGlyphs" font-weight="bold" font-style="italic" stroke="#000" stroke-width="0.35">E</text>
<text x="739.0999999999999" y="278.3" font-size="11.6" font-family="'Liberation Serif', 'DejaVu Serif', serif" fill="#000" font-style="italic" stroke="#000" stroke-width="0.12">I<tspan font-size="9" dx="0.9" dy="-1.6">∗</tspan></text>
<text x="738.4" y="288.70000000000005" font-size="11.6" font-family="'Liberation Serif', 'DejaVu Serif', serif" fill="#000" font-style="italic" stroke="#000" stroke-width="0.12">B</text>
<line x1="629.2" y1="217.2" x2="648.95" y2="217.2" stroke="#000" stroke-width="1.15" />
<polygon points="652.40,217.20 645.80,220.80 648.77,217.20 645.80,213.60" fill="#000"/>
<line x1="677" y1="217.2" x2="659.85" y2="217.2" stroke="#000" stroke-width="1.15" />
<polygon points="656.40,217.20 663.00,213.60 660.03,217.20 663.00,220.80" fill="#000"/>
<line x1="635.0" y1="230.59" x2="671.9" y2="245.51" stroke="#000" stroke-width="1.15" />
<polygon points="675.10,246.80 667.63,247.66 671.73,245.44 670.33,240.99" fill="#000"/>
<polygon points="631.80,229.30 639.27,228.44 635.17,230.66 636.57,235.11" fill="#000"/>
<line x1="634.68" y1="245.95" x2="671.52" y2="230.35" stroke="#000" stroke-width="1.15" />
<polygon points="674.70,229.00 670.03,234.89 671.36,230.42 667.22,228.26" fill="#000"/>
<polygon points="631.50,247.30 636.17,241.41 634.84,245.88 638.98,248.04" fill="#000"/>
<line x1="629.2" y1="263.6" x2="648.95" y2="263.6" stroke="#000" stroke-width="1.15" />
<polygon points="652.40,263.60 645.80,267.20 648.77,263.60 645.80,260.00" fill="#000"/>
<line x1="677" y1="263.6" x2="659.85" y2="263.6" stroke="#000" stroke-width="1.15" />
<polygon points="656.40,263.60 663.00,260.00 660.03,263.60 663.00,267.20" fill="#000"/>
<line x1="635.0" y1="276.99" x2="671.9" y2="291.91" stroke="#000" stroke-width="1.15" />
<polygon points="675.10,293.20 667.63,294.06 671.73,291.84 670.33,287.39" fill="#000"/>
<polygon points="631.80,275.70 639.27,274.84 635.17,277.06 636.57,281.51" fill="#000"/>
<line x1="634.68" y1="292.35" x2="671.52" y2="276.75" stroke="#000" stroke-width="1.15" />
<polygon points="674.70,275.40 670.03,281.29 671.36,276.82 667.22,274.66" fill="#000"/>
<polygon points="631.50,293.70 636.17,287.81 634.84,292.28 638.98,294.44" fill="#000"/>
<path d="M556.4,306.4 Q556.4,310.29999999999995 563.3,310.29999999999995 L582.0,310.29999999999995 Q588.9,310.29999999999995 588.9,314.2 Q588.9,310.29999999999995 595.8,310.29999999999995 L614.5,310.29999999999995 Q621.4,310.29999999999995 621.4,306.4" fill="none" stroke="#000" stroke-width="1.2"/>
<path d="M631.4,306.4 Q631.4,310.29999999999995 638.3,310.29999999999995 L647.3000000000001,310.29999999999995 Q654.2,310.29999999999995 654.2,314.2 Q654.2,310.29999999999995 661.1,310.29999999999995 L670.1,310.29999999999995 Q677,310.29999999999995 677,306.4" fill="none" stroke="#000" stroke-width="1.2"/>
<path d="M684.4,306.4 Q684.4,310.29999999999995 691.3,310.29999999999995 L709.8000000000001,310.29999999999995 Q716.7,310.29999999999995 716.7,314.2 Q716.7,310.29999999999995 723.6,310.29999999999995 L742.1,310.29999999999995 Q749,310.29999999999995 749,306.4" fill="none" stroke="#000" stroke-width="1.2"/>
<text x="560.4" y="327" font-size="10.6" font-family="'Liberation Sans', 'DejaVu Sans', sans-serif" fill="#000" textLength="59" lengthAdjust="spacingAndGlyphs" stroke="#000" stroke-width="0.18">Bundle View</text>
<text x="635.8" y="326.2" font-size="10.6" font-family="'Liberation Sans', 'DejaVu Sans', sans-serif" fill="#000" textLength="38" lengthAdjust="spacingAndGlyphs" stroke="#000" stroke-width="0.18">InfoNCE</text>
<text x="695.8" y="327" font-size="10.6" font-family="'Liberation Sans', 'DejaVu Sans', sans-serif" fill="#000" textLength="48.4" lengthAdjust="spacingAndGlyphs" stroke="#000" stroke-width="0.18">Item View</text>
<line x1="761" y1="230.6" x2="776.46" y2="230.6" stroke="#000" stroke-width="1.2" />
<polygon points="786.00,230.60 775.40,234.60 775.40,226.60" fill="#000"/>
<line x1="760.4" y1="278.2" x2="775.46" y2="278.2" stroke="#000" stroke-width="1.2" />
<polygon points="785.00,278.20 774.40,282.20 774.40,274.20" fill="#000"/>
<text x="789.4" y="237" font-size="17.5" font-family="'DejaVu Sans', 'DejaVu Serif', sans-serif" fill="#000" font-style="italic"  >ℒ</text>
<text x="801.4" y="230.2" font-size="13" font-family="'Liberation Serif', 'DejaVu Serif', serif" fill="#000" font-style="italic" stroke="#000" stroke-width="0.15">C</text>
<text x="800.0" y="241.9" font-size="13" font-family="'Liberation Serif', 'DejaVu Serif', serif" fill="#000" font-style="italic" stroke="#000" stroke-width="0.15">U</text>
<text x="788.6" y="285" font-size="17.5" font-family="'DejaVu Sans', 'DejaVu Serif', sans-serif" fill="#000" font-style="italic"  >ℒ</text>
<text x="800.6" y="278.2" font-size="13" font-family="'Liberation Serif', 'DejaVu Serif', serif" fill="#000" font-style="italic" stroke="#000" stroke-width="0.15">C</text>
<text x="799.2" y="289.9" font-size="13" font-family="'Liberation Serif', 'DejaVu Serif', serif" fill="#000" font-style="italic" stroke="#000" stroke-width="0.15">B</text>
<line x1="813.4" y1="231" x2="841.69" y2="246.92" stroke="#000" stroke-width="1.2" />
<polygon points="850.00,251.60 838.80,249.89 842.72,242.92" fill="#000"/>
<line x1="812" y1="278.6" x2="840.24" y2="266.39" stroke="#000" stroke-width="1.2" />
<polygon points="849.00,262.60 840.86,270.48 837.68,263.14" fill="#000"/>
<text x="853.6" y="262.4" font-size="17.5" font-family="'DejaVu Sans', 'DejaVu Serif', sans-serif" fill="#000" font-style="italic"  >ℒ</text>
<text x="865.6" y="255.59999999999997" font-size="13" font-family="'Liberation Serif', 'DejaVu Serif', serif" fill="#000" font-style="italic" stroke="#000" stroke-width="0.15">C</text>
<line x1="899.2" y1="129.2" x2="960.33" y2="167.71" stroke="#000" stroke-width="1.2" />
<polygon points="968.40,172.80 957.30,170.53 961.56,163.77" fill="#000"/>
<line x1="899.2" y1="251.2" x2="960.88" y2="203.07" stroke="#000" stroke-width="1.2" />
<polygon points="968.40,197.20 962.50,206.87 957.58,200.57" fill="#000"/>
<line x1="941.4" y1="185.6" x2="959.06" y2="185.6" stroke="#000" stroke-width="1.2" />
<polygon points="968.60,185.60 958.00,189.60 958.00,181.60" fill="#000"/>
<text x="899.8" y="193.6" font-size="15" font-family="'Liberation Sans', 'DejaVu Sans', sans-serif" fill="#000" stroke="#000" stroke-width="0.18">‖</text>
<text x="906" y="193.6" font-size="15" font-family="'Liberation Sans', 'DejaVu Sans', sans-serif" fill="#000" textLength="11.4" lengthAdjust="spacingAndGlyphs" font-weight="bold" stroke="#000" stroke-width="0.18">Θ</text>
<text x="918.4" y="193.6" font-size="15" font-family="'Liberation Sans', 'DejaVu Sans', sans-serif" fill="#000" stroke="#000" stroke-width="0.18">‖</text>
<text x="926" y="186.4" font-size="11.5" font-family="'Liberation Sans', 'DejaVu Sans', sans-serif" fill="#000" stroke="#000" stroke-width="0.18">2</text>
<text x="926" y="197" font-size="11.5" font-family="'Liberation Sans', 'DejaVu Sans', sans-serif" fill="#000" stroke="#000" stroke-width="0.18">2</text>
<text x="975.4" y="190.6" font-size="17.5" font-family="'DejaVu Sans', 'DejaVu Serif', sans-serif" fill="#000" font-style="italic"  >ℒ</text>
<circle cx="71.2" cy="352.2" r="4.6" fill="#FFD966" stroke="#000" stroke-width="1.3"/>
<text x="79.6" y="357.1" font-size="14.2" font-family="'Liberation Sans', 'DejaVu Sans', sans-serif" fill="#000" textLength="26.6" lengthAdjust="spacingAndGlyphs" stroke="#000" stroke-width="0.18">user</text>
<circle cx="116.6" cy="352.2" r="4.6" fill="#A9D18E" stroke="#000" stroke-width="1.3"/>
<text x="124.8" y="357.1" font-size="14.2" font-family="'Liberation Sans', 'DejaVu Sans', sans-serif" fill="#000" textLength="28.2" lengthAdjust="spacingAndGlyphs" stroke="#000" stroke-width="0.18">item</text>
<circle cx="164.4" cy="352.6" r="4.6" fill="#8FAADC" stroke="#000" stroke-width="1.3"/>
<text x="173.4" y="357.1" font-size="14.2" font-family="'Liberation Sans', 'DejaVu Sans', sans-serif" fill="#000" textLength="43.6" lengthAdjust="spacingAndGlyphs" stroke="#000" stroke-width="0.18">bundle</text>
<line x1="223.6" y1="352.4" x2="240.4" y2="352.4" stroke="#000" stroke-width="1.2" />
<text x="243.4" y="357.1" font-size="14.2" font-family="'Liberation Sans', 'DejaVu Sans', sans-serif" fill="#000" textLength="69" lengthAdjust="spacingAndGlyphs" stroke="#000" stroke-width="0.18">interaction</text>
<line x1="320.6" y1="352.6" x2="339.38" y2="352.6" stroke="#000" stroke-width="1.1" stroke-dasharray="2.5 1.2" />
<polygon points="346.90,352.60 335.90,356.20 338.98,352.60 335.90,349.00" fill="#000"/>
<text x="349.4" y="356.4" font-size="14.2" font-family="'Liberation Sans', 'DejaVu Sans', sans-serif" fill="#000" textLength="60" lengthAdjust="spacingAndGlyphs" stroke="#000" stroke-width="0.18">affiliation</text>
<text y="356.4" font-size="14.2" font-family="'Liberation Sans', 'DejaVu Sans', sans-serif" fill="#000" stroke="#000" stroke-width="0.18"><tspan x="420.8" textLength="22.2" lengthAdjust="spacingAndGlyphs">GA:</tspan> <tspan x="447" textLength="38.8" lengthAdjust="spacingAndGlyphs">Graph</tspan> <tspan x="490" textLength="90.4" lengthAdjust="spacingAndGlyphs">Augmentation</tspan></text>
<text y="356.4" font-size="14.2" font-family="'Liberation Sans', 'DejaVu Sans', sans-serif" fill="#000" stroke="#000" stroke-width="0.18"><tspan x="593.8" textLength="20.0" lengthAdjust="spacingAndGlyphs">EA:</tspan> <tspan x="617.5" textLength="71.8" lengthAdjust="spacingAndGlyphs">Embedding</tspan> <tspan x="694.3" textLength="90.7" lengthAdjust="spacingAndGlyphs">Augmentation</tspan></text>
<text y="385.6" font-size="18.1" font-family="'Liberation Serif', 'DejaVu Serif', serif" font-weight="bold" fill="#000" ><tspan x="4.7" textLength="55.3" lengthAdjust="spacingAndGlyphs">Figure</tspan> <tspan x="64.0" textLength="14.8" lengthAdjust="spacingAndGlyphs">2:</tspan> <tspan x="82.9" textLength="32.1" lengthAdjust="spacingAndGlyphs">The</tspan> <tspan x="118.6" textLength="59.4" lengthAdjust="spacingAndGlyphs">overall</tspan> <tspan x="181.6" textLength="95.2" lengthAdjust="spacingAndGlyphs">framework</tspan> <tspan x="281.7" textLength="18.6" lengthAdjust="spacingAndGlyphs">of</tspan> <tspan x="303.4" textLength="85.4" lengthAdjust="spacingAndGlyphs">CrossCBR</tspan> <tspan x="394.1" textLength="65.9" lengthAdjust="spacingAndGlyphs">consists</tspan> <tspan x="464.9" textLength="17.1" lengthAdjust="spacingAndGlyphs">of</tspan> <tspan x="486.6" textLength="30.9" lengthAdjust="spacingAndGlyphs">two</tspan> <tspan x="522.4" textLength="47.6" lengthAdjust="spacingAndGlyphs">parts:</tspan> <tspan x="574.9" textLength="20.9" lengthAdjust="spacingAndGlyphs">(1)</tspan> <tspan x="600.4" textLength="123.9" lengthAdjust="spacingAndGlyphs">representation</tspan> <tspan x="729.1" textLength="70.9" lengthAdjust="spacingAndGlyphs">learning</tspan> <tspan x="804.9" textLength="25.4" lengthAdjust="spacingAndGlyphs">for</tspan> <tspan x="834.9" textLength="26.6" lengthAdjust="spacingAndGlyphs">the</tspan> <tspan x="866.9" textLength="30.9" lengthAdjust="spacingAndGlyphs">two</tspan> <tspan x="902.6" textLength="46.4" lengthAdjust="spacingAndGlyphs">views</tspan> <tspan x="953.9" textLength="17.6" lengthAdjust="spacingAndGlyphs">of</tspan> <tspan x="976.4" textLength="43.9" lengthAdjust="spacingAndGlyphs">users</tspan> <tspan x="1025.1" textLength="30.7" lengthAdjust="spacingAndGlyphs">and</tspan></text>
<text y="410" font-size="18.1" font-family="'Liberation Serif', 'DejaVu Serif', serif" font-weight="bold" fill="#000" ><tspan x="4.7" textLength="65.8" lengthAdjust="spacingAndGlyphs">bundles</tspan> <tspan x="76.1" textLength="30.7" lengthAdjust="spacingAndGlyphs">and</tspan> <tspan x="111.6" textLength="21.7" lengthAdjust="spacingAndGlyphs">(2)</tspan> <tspan x="138.1" textLength="26.9" lengthAdjust="spacingAndGlyphs">the</tspan> <tspan x="169.6" textLength="40.4" lengthAdjust="spacingAndGlyphs">joint</tspan> <tspan x="214.6" textLength="109.2" lengthAdjust="spacingAndGlyphs">optimization</tspan> <tspan x="328.9" textLength="18.5" lengthAdjust="spacingAndGlyphs">of</tspan> <tspan x="351.7" textLength="26.9" lengthAdjust="spacingAndGlyphs">the</tspan> <tspan x="382.9" textLength="37.1" lengthAdjust="spacingAndGlyphs">BPR</tspan> <tspan x="425.4" textLength="31.6" lengthAdjust="spacingAndGlyphs">loss</tspan></text>
<text x="463.2" y="410" font-size="17.8" font-family="'DejaVu Sans', 'DejaVu Serif', sans-serif" fill="#000" textLength="15.6" lengthAdjust="spacingAndGlyphs" font-style="italic" stroke="#000" stroke-width="0.25">ℒ</text>
<text x="478.2" y="402.8" font-size="13.6" font-family="'Liberation Serif', 'DejaVu Serif', serif" fill="#000" textLength="28.4" lengthAdjust="spacingAndGlyphs" font-style="italic">BPR</text>
<text y="410" font-size="18.1" font-family="'Liberation Serif', 'DejaVu Serif', serif" font-weight="bold" fill="#000" ><tspan x="512.1" textLength="30.9" lengthAdjust="spacingAndGlyphs">and</tspan> <tspan x="547.9" textLength="93.4" lengthAdjust="spacingAndGlyphs">contrastive</tspan> <tspan x="647.1" textLength="31.7" lengthAdjust="spacingAndGlyphs">loss</tspan></text>
<text x="684.6" y="410" font-size="17.8" font-family="'DejaVu Sans', 'DejaVu Serif', sans-serif" fill="#000" textLength="15.6" lengthAdjust="spacingAndGlyphs" font-style="italic" stroke="#000" stroke-width="0.25">ℒ</text>
<text x="699.8" y="402.8" font-size="13.8" font-family="'Liberation Serif', 'DejaVu Serif', serif" fill="#000" textLength="9.8" lengthAdjust="spacingAndGlyphs" font-style="italic">C</text>
<text x="711" y="410" font-size="18.1" font-family="'Liberation Serif', 'DejaVu Serif', serif" fill="#000" font-weight="bold">.</text>
</svg>
</body>
</html>
